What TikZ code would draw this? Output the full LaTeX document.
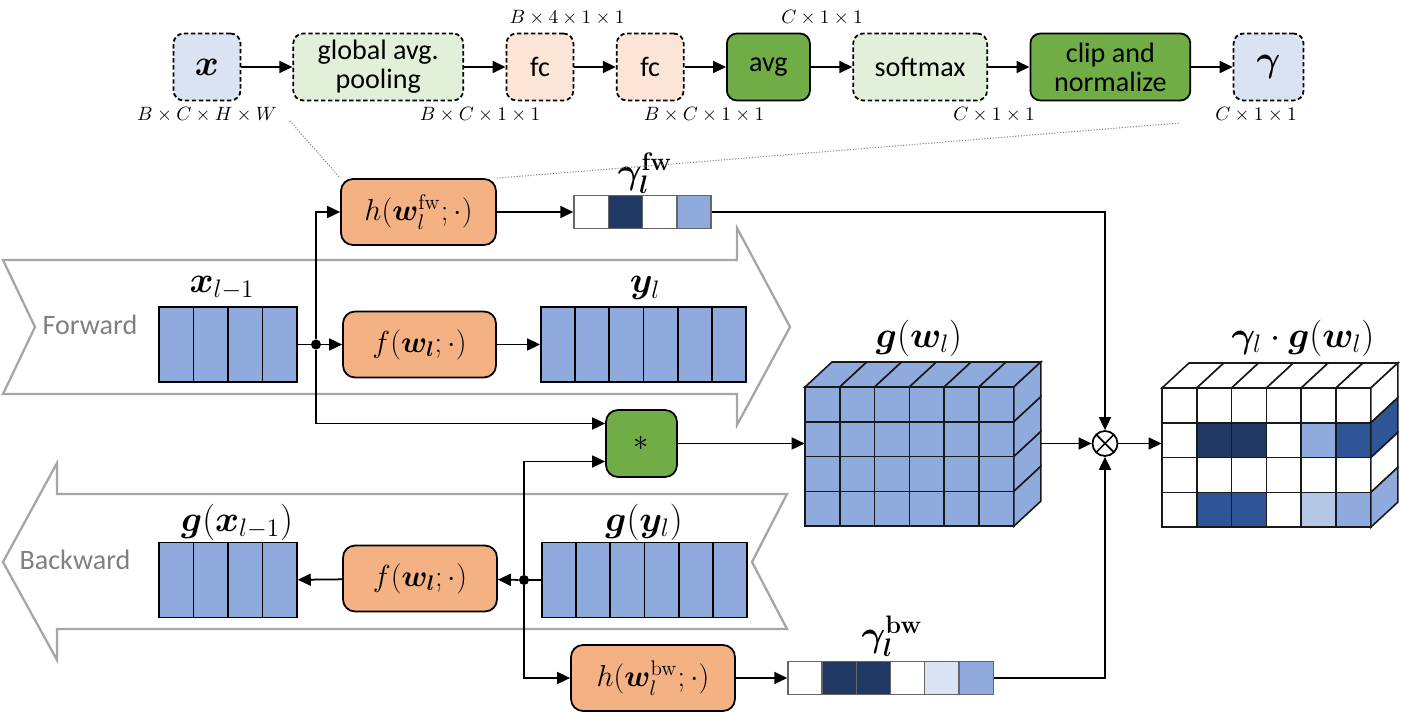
\documentclass[tikz,border=0pt]{standalone}
\usepackage{amsmath,bm}
\usepackage[no-math]{fontspec}
\setmainfont{Carlito}
\usetikzlibrary{arrows.meta, positioning}

\definecolor{boxorange}{HTML}{F4B183}
\definecolor{boxgreen}{HTML}{70AD47}
\definecolor{palegreen}{HTML}{E2F0D9}
\definecolor{paleorange}{HTML}{FBE5D6}
\definecolor{paleblue}{HTML}{DAE3F3}
\definecolor{cellblue}{HTML}{8FAADC}
\definecolor{cellmid}{HTML}{2F5597}
\definecolor{cellnavy}{HTML}{203864}
\definecolor{cellsoft}{HTML}{B4C7E7}
\definecolor{bandgray}{HTML}{A6A6A6}

\begin{document}
\begin{tikzpicture}[
    x=0.02cm, y=-0.02cm,
    node distance=0.83cm,
    stage/.style={draw, line width=1pt, rounded corners=0.2cm, minimum height=1.34cm,
                  align=center, font=\fontsize{16}{16.5}\selectfont, inner sep=1pt},
    stagedash/.style={stage, dash pattern=on 2.5pt off 1.5pt},
    opbox/.style={draw, line width=1pt, rounded corners=0.24cm, minimum height=1.32cm,
                  font=\fontsize{17}{19}\selectfont, fill=boxorange},
    dimlabel/.style={font=\fontsize{11}{13}\selectfont},
    biglabel/.style={font=\fontsize{20}{22}\selectfont},
    cell/.style={draw, line width=1pt, fill=cellblue, minimum width=0.686cm,
                 minimum height=1.5cm, inner sep=0pt},
    gcell/.style={draw=gray!80!black, line width=0.8pt, minimum width=0.686cm,
                  minimum height=0.66cm, inner sep=0pt},
    cube/.style={draw=black!90, line width=0.9pt},
    band/.style={draw=bandgray, line width=1.3pt},
    bandtext/.style={text=black!50, font=\fontsize{16}{18}\selectfont},
    panah/.style={-{Triangle[length=2.6mm, width=2.4mm]}, line width=1pt},
    junc/.style={circle, fill, inner sep=0pt, minimum size=0.2cm},
    zoomline/.style={densely dotted, gray, line width=0.6pt}
  ]
  \useasboundingbox (0,0) rectangle (1401,712);

  % top row: inside of h
  \node[stagedash, fill=paleblue, minimum width=1.34cm, font=\fontsize{22}{24}\selectfont] (xin) at (207,67) {$\bm{x}$};
  \node[stagedash, fill=palegreen, minimum width=3.4cm, right=1.02cm of xin] (pool) {global avg.\\pooling};
  \node[stagedash, fill=paleorange, minimum width=1.34cm, right=of pool] (fca) {fc};
  \node[stagedash, fill=paleorange, minimum width=1.34cm, right=of fca] (fcb) {fc};
  \node[stage, fill=boxgreen, minimum width=1.66cm, right=of fcb] (avg) {avg};
  \node[stagedash, fill=palegreen, minimum width=2.68cm, right=of avg] (soft) {softmax};
  \node[stage, fill=boxgreen, minimum width=3.2cm, right=of soft] (clip) {clip and\\normalize};
  \node[stagedash, fill=paleblue, minimum width=1.4cm, font=\fontsize{22}{24}\selectfont, right=of clip] (gam) {$\bm{\gamma}$};
  \draw[panah] (xin) -- (pool);
  \draw[panah] (pool) -- (fca);
  \draw[panah] (fca) -- (fcb);
  \draw[panah] (fcb) -- (avg);
  \draw[panah] (avg) -- (soft);
  \draw[panah] (soft) -- (clip);
  \draw[panah] (clip) -- (gam);

  \node[dimlabel] (d1) at (207,115) {$B\times C\times H\times W$};
  \node[dimlabel] (d2) at (480,115) {$B\times C\times 1\times 1$};
  \node[dimlabel] (d3) at (567,18) {$B\times 4\times 1\times 1$};
  \node[dimlabel] (d4) at (704,115) {$B\times C\times 1\times 1$};
  \node[dimlabel] (d5) at (822,18) {$C\times 1\times 1$};
  \node[dimlabel] (d6) at (994,115) {$C\times 1\times 1$};
  \node[dimlabel] (d7) at (1256,115) {$C\times 1\times 1$};

  % forward / backward bands
  \draw[band] (3,260) -- (737,260) -- (737,228) -- (790,327) -- (737,425) -- (737,394)
    -- (3,394) -- (35,327) -- cycle;
  \draw[band] (57,494) -- (787,494) -- (752,562) -- (787,629) -- (57,629) -- (57,660)
    -- (3,562) -- (57,463) -- cycle;
  \node[bandtext] (fwd) at (90,325) {Forward};
  \node[bandtext] (bwd) at (75,560) {Backward};

  % operators
  \node[opbox, minimum width=3.1cm] (hfw) at (418.5,212) {$h(\bm{w}_l^{\mathrm{fw}};\cdot)$};
  \node[opbox, minimum width=3.06cm] (ffw) at (419.5,344.5) {$f(\bm{w_l};\cdot)$};
  \node[opbox, minimum width=3.08cm] (fbw) at (420,578.5) {$f(\bm{w_l};\cdot)$};
  \node[opbox, minimum width=3.28cm] (hbw) at (653,678) {$h(\bm{w}_l^{\mathrm{bw}};\cdot)$};
  \node[opbox, fill=boxgreen, minimum width=1.42cm, minimum height=1.34cm] (conv) at (641.5,443.5) {$*$};

  % vectors
  \foreach \i in {1,...,4}
    \node[cell] (xl-\i) at ({159+34.5*(\i-0.5)},344.5) {};
  \foreach \i in {1,...,6}
    \node[cell] (yl-\i) at ({541+34.2*(\i-0.5)},344.5) {};
  \foreach \i in {1,...,4}
    \node[cell] (gxl-\i) at ({159+34.5*(\i-0.5)},580) {};
  \foreach \i in {1,...,6}
    \node[cell] (gyl-\i) at ({542+34.2*(\i-0.5)},580) {};
  \foreach \c [count=\i] in {white,cellnavy,white,cellblue}
    \node[gcell, fill=\c] (gfw-\i) at ({574+34.3*(\i-0.5)},212) {};
  \foreach \c [count=\i] in {white,cellnavy,cellnavy,white,paleblue,cellblue}
    \node[gcell, fill=\c] (gbw-\i) at ({788+34.2*(\i-0.5)},678) {};

  \node[biglabel] (lxl) at (222,288) {$\bm{x}_{l-1}$};
  \node[biglabel] (lyl) at (645,288) {$\bm{y}_l$};
  \node[biglabel] (lgx) at (237,522) {$\bm{g}(\bm{x}_{l-1})$};
  \node[biglabel] (lgy) at (644,522) {$\bm{g}(\bm{y}_l)$};
  \node[biglabel] (lgfw) at (645,173) {$\bm{\gamma}_{\bm{l}}^{\mathbf{fw}}$};
  \node[biglabel] (lgbw) at (892,636) {$\bm{\gamma}_{\bm{l}}^{\mathbf{bw}}$};

  % weight gradient cube
  \foreach \r in {0,...,3}
    \foreach \k in {0,...,5}
      \draw[cube, fill=cellblue] ({805+34.8*\k},{387+34.8*\r}) rectangle +(34.8,34.8);
  \foreach \k in {0,...,5}
    \draw[cube, fill=cellblue] ({805+34.8*\k},387) -- ++(27,-25) -- ++(34.8,0) -- ++(-27,25) -- cycle;
  \foreach \r in {0,...,3}
    \draw[cube, fill=cellblue] (1013.8,{387+34.8*\r}) -- ++(27,-25) -- ++(0,34.8) -- ++(-27,25) -- cycle;
  \node[inner sep=0pt, minimum width=4.18cm, minimum height=2.78cm] (gw) at (909.5,456.5) {};
  \coordinate (gwback) at (1041,443.5);
  \node[biglabel] (lgw) at (919,338) {$\bm{g}(\bm{w}_l)$};

  % masked cube
  \foreach \row [count=\r from 0] in {{white,white,white,white,white,white},
      {white,cellnavy,cellnavy,white,cellblue,cellmid},
      {white,white,white,white,white,white},
      {white,cellmid,cellmid,white,cellsoft,cellblue}}
    \foreach \c [count=\k from 0] in \row
      \draw[cube, fill=\c] ({1162+34.8*\k},{388+34.8*\r}) rectangle +(34.8,34.8);
  \foreach \k in {0,...,5}
    \draw[cube, fill=white] ({1162+34.8*\k},388) -- ++(27,-25) -- ++(34.8,0) -- ++(-27,25) -- cycle;
  \foreach \c [count=\r from 0] in {white,cellmid,white,cellblue}
    \draw[cube, fill=\c] (1370.8,{388+34.8*\r}) -- ++(27,-25) -- ++(0,34.8) -- ++(-27,25) -- cycle;
  \node[inner sep=0pt, minimum width=4.18cm, minimum height=2.78cm] (gwg) at (1266.4,457.5) {};
  \node[biglabel] (lgwg) at (1303,338) {$\bm{\gamma}_l\cdot\bm{g}(\bm{w}_l)$};

  \node[circle, draw, line width=1pt, minimum size=0.5cm, inner sep=0pt,
        path picture={\draw[line width=1pt] (path picture bounding box.north west) -- (path picture bounding box.south east)
                       (path picture bounding box.south west) -- (path picture bounding box.north east);}]
        (mul) at (1105,443.5) {};

  % junctions
  \node[junc] (jf) at (316,344.5) {};
  \node[junc] (jb) at (524,580) {};

  % connections
  \draw[line width=1pt] (xl-4.east) -- (jf);
  \draw[panah] (jf) -- (ffw);
  \draw[panah] (jf) |- (hfw);
  \draw[panah] (jf) |- ([yshift=0.4cm]conv.west);
  \draw[panah] (ffw) -- (yl-1);
  \draw[panah] (hfw) -- (gfw-1);
  \draw[panah] (gfw-4.east) -| (mul.north);
  \draw[line width=1pt] (gyl-1.west) -- (jb);
  \draw[panah] (jb) -- (fbw);
  \draw[panah] (fbw) -- (gxl-4);
  \draw[panah] (jb) |- ([yshift=-0.36cm]conv.west);
  \draw[panah] (jb) |- (hbw);
  \draw[panah] (hbw) -- (gbw-1);
  \draw[panah] (gbw-6.east) -| (mul.south);
  \draw[panah] (conv) -- (conv -| gw.west);
  \draw[panah] (gwback) -- (mul);
  \draw[panah] (mul) -- (mul -| gwg.west);

  % zoom lines
  \coordinate (zl) at (290,121);
  \coordinate (zr) at (1180,123);
  \draw[zoomline] (zl) -- (hfw.north west);
  \draw[zoomline] (hfw.north east) -- (zr);
\end{tikzpicture}
\end{document}
